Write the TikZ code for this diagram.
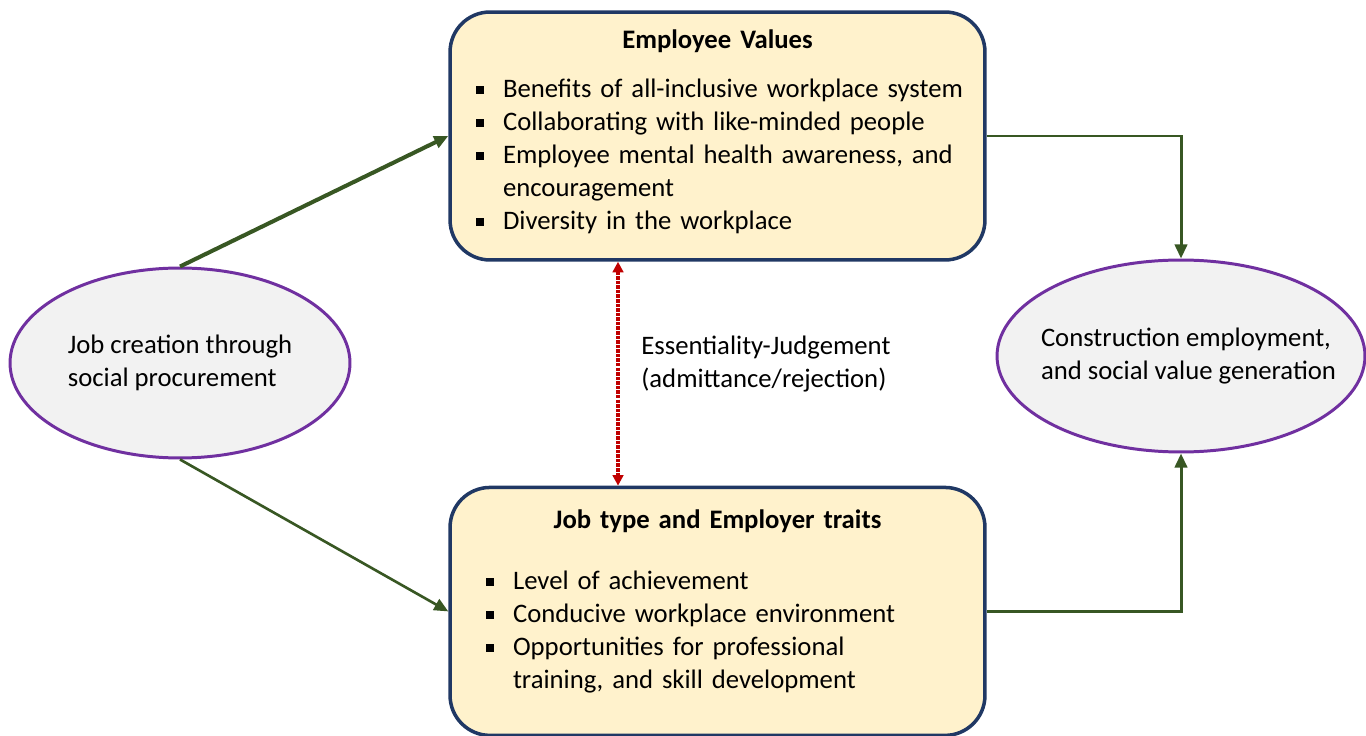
\documentclass[tikz,border=0pt]{standalone}
\usepackage{fontspec}
\setmainfont{Carlito}
\usetikzlibrary{shapes.geometric, arrows.meta, positioning}

\definecolor{boxfill}{HTML}{FFF2CC}
\definecolor{boxline}{HTML}{203864}
\definecolor{ovalfill}{HTML}{F2F2F2}
\definecolor{ovalline}{HTML}{7030A0}
\definecolor{linkgreen}{HTML}{385723}
\definecolor{judgered}{HTML}{C00000}

% square bullet and list lines
\newcommand{\sqbullet}{\rule[2.2pt]{4.4pt}{4.4pt}}
\newcommand{\itm}[2][0.52cm]{\hspace*{#1}\makebox[0.54cm][l]{\sqbullet}#2}
\newcommand{\cont}[2][0.52cm]{\hspace*{#1}\hspace*{0.54cm}#2}

\begin{document}
\begin{tikzpicture}[
    x=0.02cm, y=-0.02cm,              % one unit = one pixel of the layout
    font=\fontsize{15.2}{18.8}\selectfont,
    box_node/.style={rectangle, rounded corners=0.8cm, draw=boxline, line width=2pt,
                     fill=boxfill, text width=10.7cm, inner xsep=0pt,
                     minimum height=4.96cm, align=left},
    oval_node/.style={ellipse, draw=ovalline, line width=1.7pt, fill=ovalfill,
                      inner xsep=-0.4cm, inner ysep=0pt, align=left},
    link_arrow/.style={draw=linkgreen, line width=1.7pt,
                       -{Triangle[length=8pt, width=7pt]}},
    judge_arrow/.style={draw=judgered, line width=2.2pt, dash pattern=on 2pt off 0.6pt,
                        {Triangle[length=6pt, width=6pt]}-{Triangle[length=6pt, width=6pt]}}
    ]
    \useasboundingbox (0,0) rectangle (1366,736);

    % Boxes
    \node[box_node] (values) at (717.5,136) {%
        \makebox[10.7cm]{\bfseries Employee Values}\\[9pt]
        \itm{Benefits of all-inclusive workplace system}\\
        \itm{Collaborating with like-minded people}\\
        \itm{Employee mental health awareness, and}\\
        \cont{encouragement}\\
        \itm{Diversity in the workplace}\\[-12pt]\mbox{}};
    \node[box_node] (traits) [below=4.48cm of values] {%
        \makebox[10.7cm]{\bfseries Job type and Employer traits}\\[16pt]
        \itm[0.72cm]{Level of achievement}\\
        \itm[0.72cm]{Conducive workplace environment}\\
        \itm[0.72cm]{Opportunities for professional}\\
        \cont[0.72cm]{training, and skill development}\\[-5pt]\mbox{}};

    % Ellipses
    \node[oval_node, minimum width=6.8cm, minimum height=3.8cm] (job) at (180,363)
        {Job creation through\\social procurement};
    \node[oval_node, inner xsep=-0.6cm, minimum width=7.36cm, minimum height=3.84cm] (output) at (1181,356)
        {\hspace*{0.3cm}Construction employment,\\\hspace*{0.3cm}and social value generation};

    % Judgement label
    \node[align=left, anchor=west, inner sep=0pt] (judge) at (641,364)
        {Essentiality-Judgement\\(admittance/rejection)};

    % Arrows
    \draw[link_arrow, line width=2.3pt] (job.north) -- (values.west);
    \draw[link_arrow, line width=1.5pt] (job.south) -- (traits.west);
    \draw[link_arrow] (values.east) -| (output.north);
    \draw[link_arrow] (traits.east) -| (output.south);
    \draw[judge_arrow] ([xshift=-1.99cm]values.south) -- ([xshift=-1.99cm]traits.north);
\end{tikzpicture}
\end{document}
